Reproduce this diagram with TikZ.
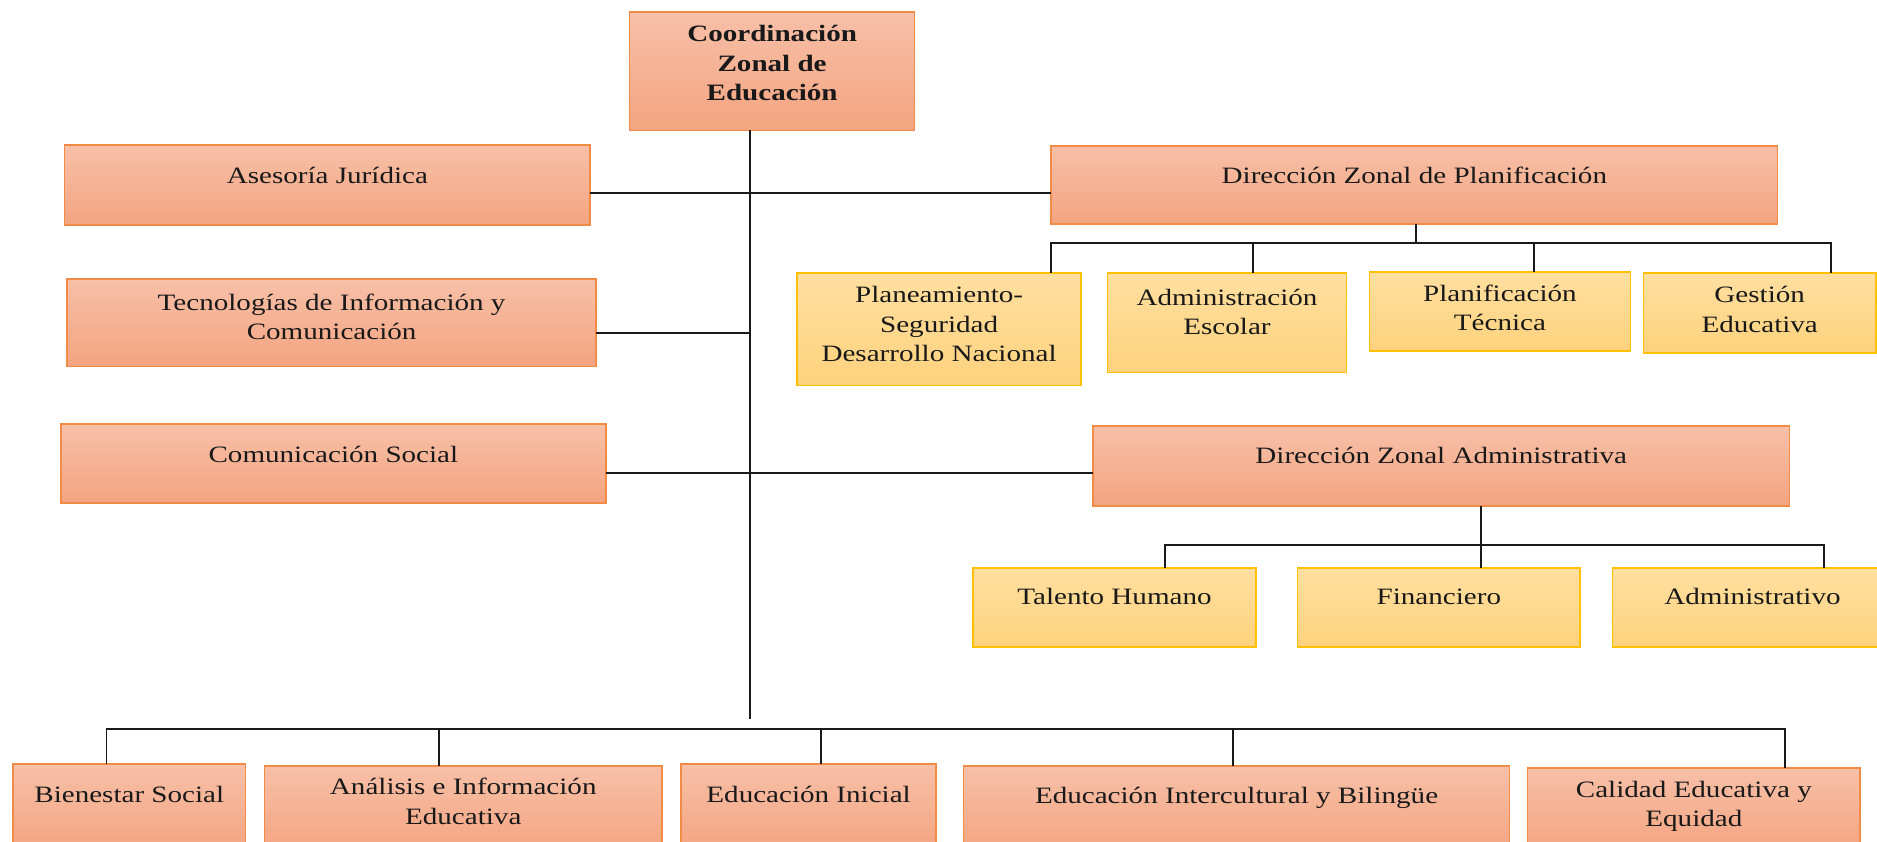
\documentclass[tikz,border=0pt]{standalone}
\usepackage{fontspec}
\setmainfont{Liberation Serif}[FakeStretch=1.24]
\definecolor{otop}{RGB}{247,192,168}
\definecolor{obot}{RGB}{244,164,128}
\definecolor{oline}{RGB}{240,140,70}
\definecolor{ytop}{RGB}{255,223,160}
\definecolor{ybot}{RGB}{254,210,125}
\definecolor{yline}{RGB}{255,192,0}
\newcommand\lbl[1]{\begin{tabular}[t]{@{}c@{}}#1\end{tabular}}
\newcommand\mkbox[6]{\node[#1, minimum width={(#5-#3)*1pt}, minimum height={(#6-#4)*1pt}] (#2) at (#3,#4) {};}
\begin{document}
\begin{tikzpicture}[x=1pt,y=-1pt,
  obox/.style={draw=oline, line width=1.3pt, top color=otop, bottom color=obot, inner sep=0pt, outer sep=0pt, anchor=north west},
  ybox/.style={draw=yline, line width=1.3pt, top color=ytop, bottom color=ybot, inner sep=0pt, outer sep=0pt, anchor=north west},
  lab/.style={anchor=base, inner sep=0pt, text=black!90, font=\fontsize{19.6}{24.4}\selectfont},
  con/.style={draw=black!90, line width=1.6pt}]
\useasboundingbox (0,0) rectangle (1568,703);
\clip (0,0) rectangle (1568,703);
% boxes
\mkbox{obox}{coord}{526}{10}{764}{109}
\mkbox{obox}{asj}{54}{121}{493}{188}
\mkbox{obox}{tic}{56}{233}{498}{306}
\mkbox{obox}{cs}{51}{354}{506}{420}
\mkbox{obox}{dzp}{878}{122}{1485}{187}
\mkbox{ybox}{pla}{666}{228}{903}{322}
\mkbox{ybox}{ade}{925}{228}{1125}{311}
\mkbox{ybox}{plt}{1144}{227}{1362}{293}
\mkbox{ybox}{ges}{1373}{228}{1567}{295}
\mkbox{obox}{dza}{913}{356}{1495}{422.5}
\mkbox{ybox}{tal}{813}{474.5}{1049}{540.5}
\mkbox{ybox}{fin}{1084}{474.5}{1320}{540.5}
\mkbox{ybox}{adm}{1347}{474.5}{1581}{540.5}
\mkbox{obox}{bie}{11}{638}{205}{712}
\mkbox{obox}{ana}{221}{640}{553}{712}
\mkbox{obox}{edi}{569}{638}{782}{712}
\mkbox{obox}{eib}{805}{640}{1261}{712}
\mkbox{obox}{cal}{1276}{641.5}{1554}{712}
% labels
\node[lab, font=\fontsize{19.6}{24.4}\selectfont\bfseries] (coord-t) at (645,35) {\lbl{\bfseries Coordinación\\\bfseries Zonal de\\\bfseries Educación}};
\node[lab] (asj-t) at (273.5,153) {Asesoría Jurídica};
\node[lab] (tic-t) at (277,259) {\lbl{Tecnologías de Información y\\Comunicación}};
\node[lab] (cs-t) at (278.5,386) {Comunicación Social};
\node[lab] (dzp-t) at (1181.5,153) {Dirección Zonal de Planificación};
\node[lab] (pla-t) at (784.5,253) {\lbl{Planeamiento-\\Seguridad\\Desarrollo Nacional}};
\node[lab] (ade-t) at (1025,255) {\lbl{Administración\\Escolar}};
\node[lab] (plt-t) at (1253,252) {\lbl{Planificación\\Técnica}};
\node[lab] (ges-t) at (1470,253) {\lbl{Gestión\\Educativa}};
\node[lab] (dza-t) at (1204,387) {Dirección Zonal Administrativa};
\node[lab] (tal-t) at (931,505) {Talento Humano};
\node[lab] (fin-t) at (1202,505) {Financiero};
\node[lab] (adm-t) at (1464,505) {Administrativo};
\node[lab] (bie-t) at (108,670) {Bienestar Social};
\node[lab] (ana-t) at (387,664) {\lbl{Análisis e Información\\Educativa}};
\node[lab] (edi-t) at (675.5,670) {Educación Inicial};
\node[lab] (eib-t) at (1033,671) {Educación Intercultural y Bilingüe};
\node[lab] (cal-t) at (1415,666) {\lbl{Calidad Educativa y\\Equidad}};
% connectors
\coordinate (mbot) at (626.5,601);
\draw[con] (coord.south -| mbot) -- (mbot);
\draw[con] ([yshift=-6.5pt]asj.east) -- ([yshift=-6.5pt]dzp.west);
\draw[con] ([yshift=-8.5pt]tic.east) -- ([yshift=-8.5pt]tic.east -| mbot);
\draw[con] ([yshift=-8pt]cs.east) -- ([yshift=-8pt]cs.east -| dza.west);
% planificacion
\coordinate (pbar) at (1183,203);
\draw[con] ([xshift=1.5pt]dzp.south) -- ([xshift=1.5pt]dzp.south |- pbar);
\draw[con] ([xshift=93.5pt]pla.north) -- ([xshift=93.5pt]pla.north |- pbar) -- ([xshift=59.7pt]ges.north |- pbar) -- ([xshift=59.7pt]ges.north);
\draw[con] ([xshift=22pt]ade.north) -- ([xshift=22pt]ade.north |- pbar);
\draw[con] ([xshift=28.6pt]plt.north) -- ([xshift=28.6pt]plt.north |- pbar);
% administrativa
\coordinate (abar) at (1237,455);
\draw[con] ([xshift=33pt]dza.south) -- ([xshift=35pt]fin.north);
\draw[con] ([xshift=42pt]tal.north) -- ([xshift=42pt]tal.north |- abar) -- ([xshift=60pt]adm.north |- abar) -- ([xshift=60pt]adm.north);
% bottom
\coordinate (bbar) at (686,609);
\draw[con] ([xshift=-19pt]bie.north) -- ([xshift=-19pt]bie.north |- bbar) -- ([xshift=76pt]cal.north |- bbar) -- ([xshift=76pt]cal.north);
\draw[con] ([xshift=-20pt]ana.north) -- ([xshift=-20pt]ana.north |- bbar);
\draw[con] ([xshift=10.5pt]edi.north) -- ([xshift=10.5pt]edi.north |- bbar);
\draw[con] ([xshift=-3pt]eib.north) -- ([xshift=-3pt]eib.north |- bbar);
\end{tikzpicture}
\end{document}
